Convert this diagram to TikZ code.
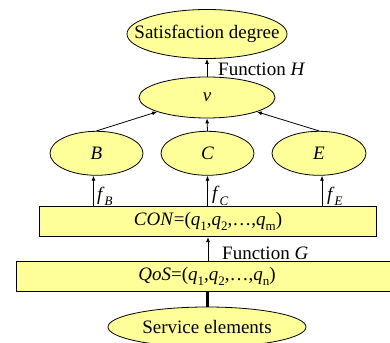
\documentclass[tikz,border=0pt]{standalone}
\usepackage{fontspec}
\setmainfont{Liberation Serif}
\usetikzlibrary{shapes.geometric,arrows.meta,calc}
\definecolor{ylw}{HTML}{FFFF99}
\newcommand{\lsub}[1]{\raisebox{-0.28em}{\fontsize{13}{13}\selectfont #1}}
\newcommand{\zw}[1]{\makebox[0pt]{#1}}
\begin{document}
\begin{tikzpicture}[x=1pt,y=-1pt, font=\fontsize{19}{22}\selectfont,
  ell/.style={ellipse, draw, fill=ylw, inner sep=0pt, line width=0.8pt},
  bar/.style={rectangle, draw, fill=ylw, inner sep=0pt, line width=0.8pt},
  arr/.style={-{Latex[length=5pt,width=4pt]}, line width=0.8pt},
  lbl/.style={anchor=west, inner sep=0pt}]
\clip (0,0) rectangle (390,342);
\fill[white] (0,0) rectangle (390,342);
% nodes
\node[ell, minimum width=160, minimum height=49] (sat) at (207,34) {\zw{Satisfaction degree}};
\node[ell, minimum width=136, minimum height=41] (v) at (207,97.5) {\zw{\textit{v}}};
\node[ell, minimum width=93, minimum height=44] (B) at (96.5,153.3) {\zw{\textit{B}}};
\node[ell, minimum width=93, minimum height=44] (C) at (207.5,153.3) {\zw{\textit{C}}};
\node[ell, minimum width=94, minimum height=44] (E) at (319,153.3) {\zw{\textit{E}}};
\node[bar, minimum width=337, minimum height=30] (CON) at (208,221.7)
  {\zw{\textit{CON}=(\textit{q}\lsub{1},\textit{q}\lsub{2},…,\textit{q}\lsub{m})}};
\node[bar, minimum width=382, minimum height=30] (QoS) at (207,276.7)
  {\zw{\textit{QoS}=(\textit{q}\lsub{1},\textit{q}\lsub{2},…,\textit{q}\lsub{n})}};
\node[ell, minimum width=198, minimum height=40] (srv) at (207,327) {\zw{Service elements}};
% connectors
\draw[arr] (v.north) -- (sat.south);
\node[lbl] (fh) at (218,69) {Function \textit{H}};
\draw[arr] (B.north) -- (v.196);
\draw[arr] (C.north) -- (v.south);
\draw[arr] (E.north) -- (v.-16);
\coordinate (bb) at ($(B.south)+(-3,0)$);
\coordinate (eb) at ($(E.south)+(3,0)$);
\draw[arr] (CON.north -| bb) -- (bb);
\draw[arr] (CON.north -| C.south) -- (C.south);
\draw[arr] (CON.north -| eb) -- (eb);
\node[lbl] (fb) at (97,196) {\textit{f}\lsub{\textit{B}}};
\node[lbl] (fc) at (212,196) {\textit{f}\lsub{\textit{C}}};
\node[lbl] (fe) at (327,196) {\textit{f}\lsub{\textit{E}}};
\draw[arr] (QoS.north -| CON.south) -- (CON.south);
\node[lbl] (fg) at (222,253) {Function \textit{G}};
\draw[line width=3pt] (QoS.south -| srv.north) -- (srv.north);
\end{tikzpicture}
\end{document}
